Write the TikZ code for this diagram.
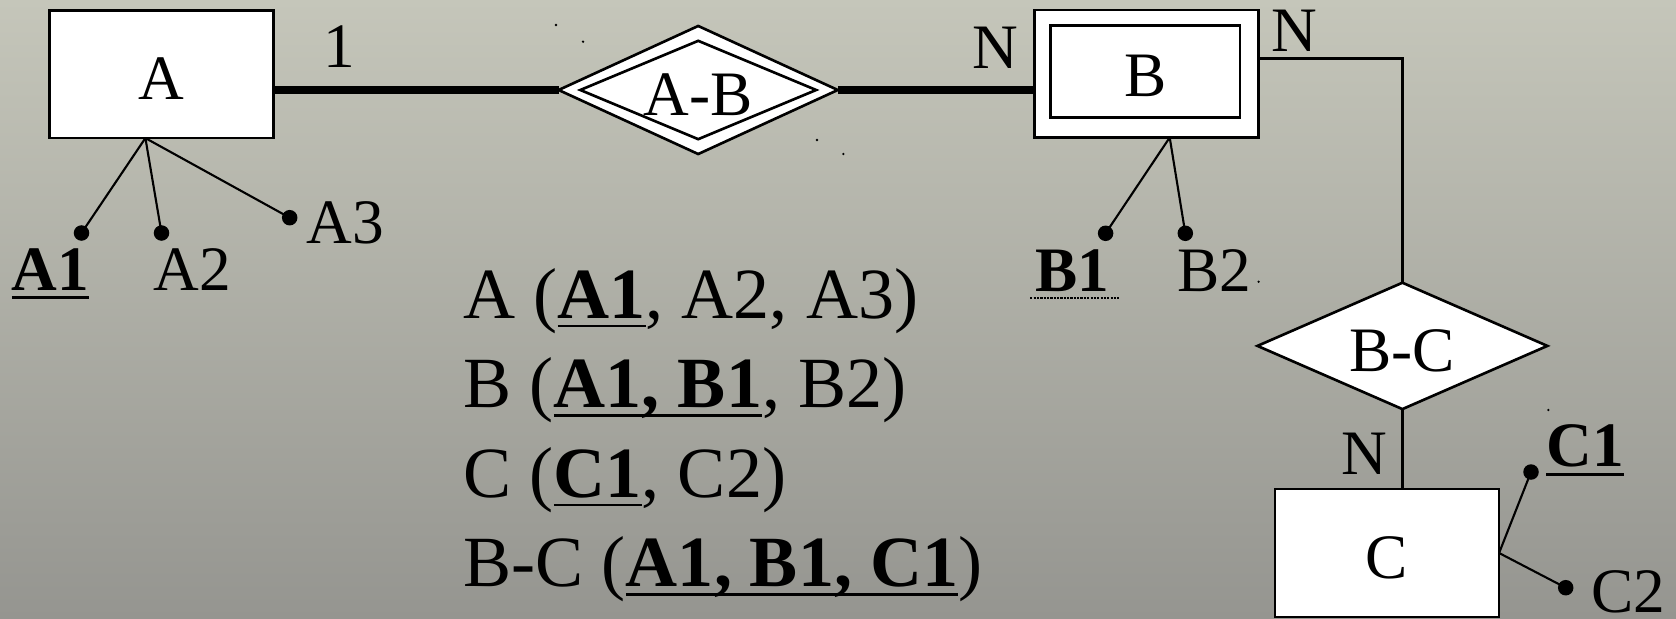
\documentclass[tikz,border=0pt]{standalone}
\usepackage{fontspec}
\setmainfont{Liberation Serif}
\usepackage{tikz}
\usetikzlibrary{shapes.geometric, calc}
\definecolor{bgtop}{RGB}{197,198,186}
\definecolor{bgbot}{RGB}{149,149,144}
\newcommand{\keyul}[1]{\leavevmode\setbox0\hbox{#1}\rlap{\vrule width\wd0 height -1.8pt depth 2.6pt}\box0}

\begin{document}
\begin{tikzpicture}[
    x=0.01cm, y=-0.01cm,
    entity/.style={rectangle, draw, fill=white, line width=0.75pt, outer sep=0pt,
                   minimum width=2.24cm, minimum height=1.275cm,
                   font=\fontsize{18}{21}\selectfont, text height=14.5pt, text depth=0pt},
    rel/.style={diamond, draw, fill=white, line width=0.75pt, outer sep=0pt, aspect=2.2,
                inner sep=-3pt, font=\fontsize{18}{21}\selectfont, text height=14.5pt, text depth=0pt},
    attrdot/.style={circle, fill=black, inner sep=0pt, minimum size=0.155cm},
    attrline/.style={line width=0.6pt},
    link/.style={line width=2.3pt},
    thinlink/.style={line width=0.7pt},
    lbl/.style={font=\fontsize{18}{21}\selectfont, inner sep=0pt},
    schema/.style={font=\fontsize{20.5}{25}\selectfont, anchor=base west, inner sep=0pt},
]

\shade[top color=bgtop, bottom color=bgbot] (0,0) rectangle (1676,618);
\useasboundingbox (0,0) rectangle (1676,618);

% entities
\node[entity] (A) at (161.4,74.3) {A};
\node[entity] (B) at (1146.7,73.7) {};
\node[entity, minimum width=1.896cm, minimum height=0.917cm] (Bin) at (1145.2,71.5) {B};
\node[entity, minimum height=1.28cm] (C) at (1387,553) {C};

% relationships
\node[rel, minimum width=2.79cm, minimum height=1.28cm] (AB) at (698.2,90) {};
\node[rel, minimum width=2.357cm, minimum height=0.983cm] (ABin) at (698.2,90) {A-B};
\node[rel, minimum width=2.897cm, minimum height=1.263cm] (BC) at (1402.4,345.9) {B-C};

\draw[link] (AB.west) -- (AB.west -| A.east);
\draw[link] (AB.east) -- (AB.east -| B.west);
\draw[thinlink] ([yshift=1.54mm]B.east) -| (BC.north);
\draw[thinlink] (BC.south) -- (BC.south |- C.north);

% cardinalities
\node[lbl] (cardA) at (339,46.7) {1};
\node[lbl] (cardB) at (995,47.5) {N};
\node[lbl] (cardBr) at (1294,31) {N};
\node[lbl] (cardC) at (1364,454) {N};

% attributes
\coordinate (Aroot) at ($(A.south)+(-16,0)$);
\coordinate (Broot) at ($(B.south)+(23,0)$);
\node[attrdot] (a1dot) at (81.5,233) {};
\node[attrdot] (a2dot) at (161.5,233) {};
\node[attrdot] (a3dot) at (289.7,217.7) {};
\node[attrdot] (b1dot) at (1105.6,233.3) {};
\node[attrdot] (b2dot) at (1185.3,233.3) {};
\node[attrdot] (c1dot) at (1531,472) {};
\node[attrdot] (c2dot) at (1565.7,587.7) {};
\foreach \d in {a1dot,a2dot,a3dot}
    \draw[attrline] (Aroot) -- (\d.center);
\foreach \d in {b1dot,b2dot}
    \draw[attrline] (Broot) -- (\d.center);
\foreach \d in {c1dot,c2dot}
    \draw[attrline] (C.east) -- (\d.center);

\node[lbl, anchor=base] (a1) at (50.6,290) {\keyul{\textbf{A1}}};
\node[lbl, anchor=base] (a2) at (192.5,290) {A2};
\node[lbl, anchor=base] (a3) at (345,243) {A3};
\node[lbl, anchor=base] (b1) at (1072,291.7) {\textbf{B1}};
\node[lbl, anchor=base] (b2) at (1214.6,291.7) {B2};
\node[lbl, anchor=base] (c1) at (1585,466.7) {\keyul{\textbf{C1}}};
\node[lbl, anchor=base] (c2) at (1628,612) {C2};
\draw[dash pattern=on 0.6pt off 0.35pt, line width=0.5pt]
    ($(b1.base west)+(-4,6)$) -- ($(b1.base east)+(10,6)$);

% relation schemas
\node[schema] (rowA) at (463,318.3) {A (\keyul{\textbf{A1}}, A2, A3)};
\node[schema] (rowB) at (463,407.8) {B (\keyul{\textbf{A1, B1}}, B2)};
\node[schema] (rowC) at (463,497.3) {C (\keyul{\textbf{C1}}, C2)};
\node[schema] (rowBC) at (463,586.8) {B-C (\keyul{\textbf{A1, B1, C1}})};

% stray dots
\foreach \p in {(556,25),(583,41.7),(817,140),(843.4,154),(1258.6,281.7),(1548.3,410)}
    \fill \p circle (1.3);

\end{tikzpicture}
\end{document}
